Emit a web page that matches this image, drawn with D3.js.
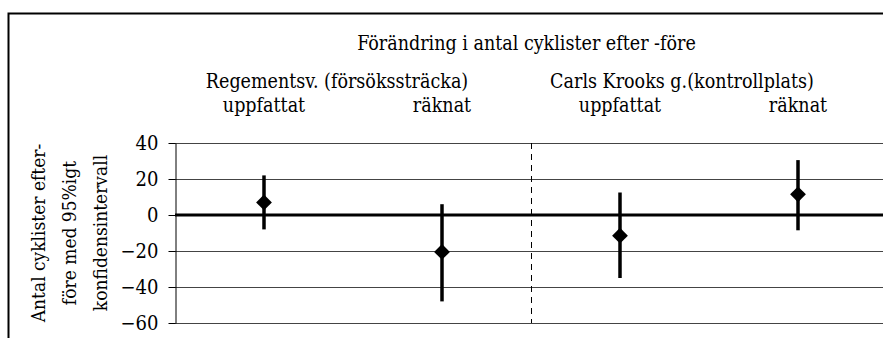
<!DOCTYPE html>
<html>
<head>
<meta charset="utf-8">
<script src="https://cdn.jsdelivr.net/npm/d3@7"></script>
<style>
  body { margin: 0; background: #fff; }
  svg { display: block; }
</style>
</head>
<body>
<div id="chart"></div>
<script>
const categories=["Regementsv. uppfattat", "Regementsv. räknat", "Carls Krooks g. uppfattat", "Carls Krooks g. räknat"];
const pointLabels=["uppfattat", "räknat", "uppfattat", "räknat"];
const estimate=[7, -20.5, -11.5, 11.5];
const upper=[22, 6, 12.5, 30.5];
const lower=[-8, -48, -35, -8.5];
const groupLabels=["Regementsv. (försökssträcka)", "Carls Krooks g.(kontrollplats)"];
const yTicks=[40, 20, 0, -20, -40, -60];
const title="Förändring i antal cyklister efter -före";
const yTitle=["Antal cyklister efter-", "före med 95%igt", "konfidensintervall"];

const FONT="'DejaVu Serif Condensed', 'DejaVu Serif', serif";
const W=883, H=338;
const svg=d3.select("#chart").append("svg")
    .attr("width", W)
    .attr("height", H)
    .attr("font-family", FONT);

// outer frame, cut off at right and bottom like the source
svg.append("rect")
    .attr("x", 8.5).attr("y", 13.5)
    .attr("width", W+20).attr("height", H+20)
    .attr("fill", "none")
    .attr("stroke", "#000")
    .attr("stroke-width", 2);

const x=d3.scaleBand()
    .domain(categories)
    .range([175, 887]);

const y=d3.scaleLinear()
    .domain([-60, 40])
    .range([323, 143]);

// gridlines
svg.append("g")
    .selectAll("line")
    .data(yTicks.filter(d => d!==0))
    .enter().append("line")
    .attr("x1", 175).attr("x2", W)
    .attr("y1", d => Math.round(y(d))+0.5)
    .attr("y2", d => Math.round(y(d))+0.5)
    .style("stroke", "#444")
    .style("stroke-width", 1);

// y axis
const yAxis=svg.append("g")
    .attr("transform", "translate(175.5,0)")
    .call(d3.axisLeft(y).tickValues(yTicks).tickSize(7).tickSizeOuter(0).tickPadding(10));
yAxis.attr("font-family", FONT);
yAxis.select(".domain").attr("stroke", "#000").attr("stroke-width", 1);
yAxis.selectAll(".tick line").attr("stroke", "#000");
yAxis.selectAll(".tick text")
    .attr("fill", "#000")
    .style("font-family", FONT)
    .style("font-size", "20px");

// zero line
svg.append("line")
    .attr("x1", 175).attr("x2", W)
    .attr("y1", y(0)).attr("y2", y(0))
    .style("stroke", "#000")
    .style("stroke-width", 3);

// dashed divider between the two sites
const divX=Math.round(x(categories[2]))+0.5;
svg.append("line")
    .attr("x1", divX).attr("x2", divX)
    .attr("y1", y(40)).attr("y2", y(-60))
    .style("stroke", "#000")
    .style("stroke-width", 1)
    .style("stroke-dasharray", "6,5");

// error bars
const cx=i => x(categories[i])+x.bandwidth()/2;
svg.append("g")
    .selectAll("line")
    .data(estimate)
    .enter().append("line")
    .attr("x1", (d, i) => cx(i)).attr("x2", (d, i) => cx(i))
    .attr("y1", (d, i) => y(upper[i]))
    .attr("y2", (d, i) => y(lower[i]))
    .style("stroke", "#000")
    .style("stroke-width", 3.5);

svg.append("g")
    .selectAll("path")
    .data(estimate)
    .enter().append("path")
    .attr("d", d3.symbol(d3.symbolSquare, 125))
    .attr("transform", (d, i) => `translate(${cx(i)},${y(d)}) rotate(45)`)
    .attr("fill", "#000");

// labels above the plot
svg.append("text")
    .attr("x", divX-5).attr("y", 50)
    .attr("text-anchor", "middle")
    .style("font-family", FONT)
    .style("font-size", "19.5px")
    .text(title);

svg.selectAll(".group-label")
    .data(groupLabels)
    .enter().append("text")
    .attr("class", "group-label")
    .attr("x", (d, i) => (cx(2*i)+cx(2*i+1))/2-[16, 27][i])
    .attr("y", 88)
    .attr("text-anchor", "middle")
    .style("font-family", FONT)
    .style("font-size", "19.5px")
    .text(d => d);

svg.selectAll(".point-label")
    .data(pointLabels)
    .enter().append("text")
    .attr("class", "point-label")
    .attr("x", (d, i) => cx(i))
    .attr("y", 112)
    .attr("text-anchor", "middle")
    .style("font-family", FONT)
    .style("font-size", "19.5px")
    .text(d => d);

// y title
const yt=svg.append("text")
    .attr("transform", "translate(0,233) rotate(-90)")
    .attr("text-anchor", "middle")
    .style("font-family", FONT)
    .style("font-size", "19px");
yt.selectAll("tspan")
    .data(yTitle)
    .enter().append("tspan")
    .attr("x", 0)
    .attr("y", (d, i) => [45, 76, 107][i])
    .text(d => d);
</script>
</body>
</html>
